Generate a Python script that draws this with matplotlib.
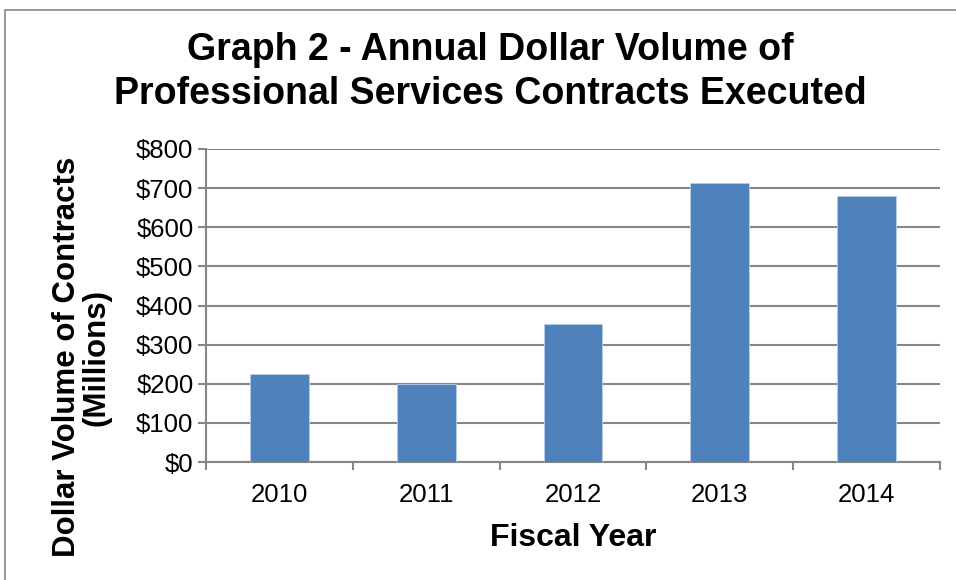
import numpy as np
import matplotlib.pyplot as plt
from matplotlib.patches import Rectangle

# data
years = ['2010', '2011', '2012', '2013', '2014']
volume = [224, 200, 353, 713, 681]
yticks = [0, 100, 200, 300, 400, 500, 600, 700, 800]

plt.rcParams['font.family'] = ['Liberation Sans', 'DejaVu Sans']
grey = '#868686'

fig = plt.figure(figsize=(9.56, 5.8), dpi=100)
W, H = 956, 580
ax = fig.add_axes([206 / W, 1 - 462 / H, (940 - 206) / W, (462 - 149) / H])

x = np.arange(len(years))
ax.bar(x, volume, width=0.4, color='#4F81BD', edgecolor='#B9CDE5', linewidth=0.6, zorder=3)

ax.set_xlim(-0.5, len(years) - 0.5)
ax.set_ylim(0, 800)
ax.set_yticks(yticks)
ax.set_yticklabels(['$%d' % v for v in yticks], fontsize=18.5)
ax.set_xticks(x)
ax.set_xticklabels(years, fontsize=18.5)
ax.set_xticks(np.arange(len(years) + 1) - 0.5, minor=True)
ax.tick_params(axis='x', which='major', length=0, pad=15)
ax.tick_params(axis='x', which='minor', length=6, width=1.5, color=grey)
ax.tick_params(axis='y', length=6, width=1.5, color=grey, pad=3)

ax.grid(axis='y', color=grey, linewidth=1.5, zorder=0)
for s in ['top', 'right']:
    ax.spines[s].set_visible(False)
for s in ['left', 'bottom']:
    ax.spines[s].set_color(grey)
    ax.spines[s].set_linewidth(1.5)

ax.set_xlabel('Fiscal Year', fontsize=23, fontweight='bold', labelpad=12)
ax.set_ylabel('Dollar Volume of Contracts\n(Millions)', fontsize=22.5, fontweight='bold',
              linespacing=1.0)
ax.yaxis.set_label_coords((112 - 206) / 734, (462 - 357) / 313)

fig.text(490 / W, 1 - 72 / H, 'Graph 2 - Annual Dollar Volume of\nProfessional Services Contracts Executed',
         ha='center', va='center', fontsize=27, fontweight='bold', linespacing=1.25)

# outer chart border (cut off at right and bottom in the reference)
fig.patches.append(Rectangle((5 / W, -0.1), 1.1, 1 - 10 / H + 0.1, transform=fig.transFigure,
                             fill=False, edgecolor=grey, linewidth=1.2))

fig.savefig('out.png', dpi=100)
